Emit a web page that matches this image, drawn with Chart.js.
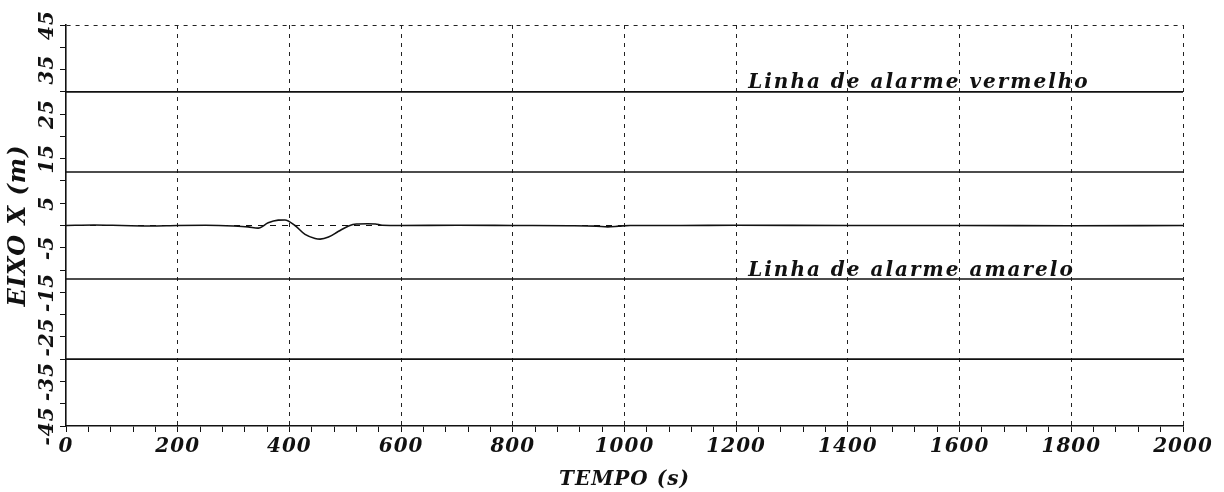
<!DOCTYPE html>
<html>
<head>
<meta charset="utf-8">
<script src="https://cdn.jsdelivr.net/npm/chart.js@4.4.1/dist/chart.umd.min.js"></script>
<style>
  html, body { margin: 0; padding: 0; background: #fff; }
  #wrap { width: 1224px; height: 492px; position: relative; }
</style>
</head>
<body>
<div id="wrap"><canvas id="c"></canvas></div>
<script>
// ---- data ----
const tempo = [0, 50, 100, 150, 200, 250, 300, 326, 344, 362, 380, 392, 410, 428, 446, 455, 470, 488, 506, 520, 540, 554, 566, 600, 700, 800, 900, 950, 970, 990, 1010, 1100, 1200, 1400, 1600, 1800, 2000];
const eixoX = [0, 0.1, 0, -0.1, 0, 0.05, -0.1, -0.3, -0.6, 0.6, 1.2, 1.25, 0.0, -2.0, -2.9, -3.05, -2.6, -1.3, -0.1, 0.35, 0.4, 0.35, 0.05, 0, 0.05, 0, -0.05, -0.15, -0.3, -0.15, 0, 0, 0.05, 0, 0, -0.05, 0];
const alarmeVermelho = [30, -30];
const alarmeAmarelo = [12, -12];
const xRange = [0, 2000];
const xTickLabels = [0, 200, 400, 600, 800, 1000, 1200, 1400, 1600, 1800, 2000];
const yTickLabels = [-45, -35, -25, -15, -5, 5, 15, 25, 35, 45];
const textoVermelho = 'Linha de alarme vermelho';
const textoAmarelo = 'Linha de alarme amarelo';
const annotX = 1200;

const FONT = '"DejaVu Serif", serif';
const INK = '#111';

function hline(v, dash) {
  return {
    data: xRange.map(x => ({x: x, y: v})),
    borderColor: INK, borderWidth: dash ? 1 : 1.6, borderDash: dash || [],
    pointRadius: 0, fill: false, tension: 0
  };
}

const datasets = [
  hline(0, [6, 6]),
  ...alarmeVermelho.map(v => hline(v)),
  ...alarmeAmarelo.map(v => hline(v)),
  {
    data: tempo.map((t, i) => ({x: t, y: eixoX[i]})),
    borderColor: INK, borderWidth: 1.6, pointRadius: 0, fill: false,
    cubicInterpolationMode: 'monotone'
  }
];

const spacingPlugin = {
  id: 'spacing',
  beforeLayout(chart) { chart.ctx.letterSpacing = '1px'; },
  beforeDraw(chart) { chart.ctx.letterSpacing = '1px'; }
};

const annotPlugin = {
  id: 'annot',
  afterDatasetsDraw(chart) {
    const {ctx, scales: {x, y}} = chart;
    ctx.save();
    ctx.letterSpacing = '2px';
    ctx.font = 'italic bold 20px ' + FONT;
    ctx.fillStyle = INK;
    ctx.textAlign = 'left';
    ctx.textBaseline = 'alphabetic';
    ctx.fillText(textoVermelho, x.getPixelForValue(annotX) + 12, y.getPixelForValue(alarmeVermelho[0]) - 4);
    ctx.fillText(textoAmarelo, x.getPixelForValue(annotX) + 12, y.getPixelForValue(alarmeAmarelo[1]) - 3);
    ctx.restore();
  }
};

new Chart(document.getElementById('c'), {
  type: 'line',
  data: { datasets },
  plugins: [spacingPlugin, annotPlugin],
  options: {
    responsive: true, maintainAspectRatio: false, animation: false,
    layout: { padding: { left: 0, right: 41, top: 25, bottom: 0 } },
    plugins: { legend: { display: false }, tooltip: { enabled: false } },
    scales: {
      x: {
        type: 'linear', min: xRange[0], max: xRange[1],
        afterFit(s) { s.height = 66; },
        ticks: {
          stepSize: 40, maxTicksLimit: 100, autoSkip: false,
          minRotation: 0, maxRotation: 0, padding: 3,
          color: INK, font: { family: FONT, size: 20, style: 'italic', weight: 'bold' },
          callback: v => xTickLabels.includes(v) ? String(v) : ''
        },
        grid: {
          color: c => (c.tick && c.tick.value !== 0 && xTickLabels.includes(c.tick.value)) ? '#222' : 'rgba(0,0,0,0)',
          tickColor: INK, tickLength: 6, lineWidth: 1
        },
        border: { display: true, color: INK, width: 1.6, dash: [4, 5] },
        title: {
          display: true, text: 'TEMPO (s)', color: INK,
          font: { family: FONT, size: 20, style: 'italic', weight: 'bold' },
          padding: { top: 0, bottom: 0 }
        }
      },
      y: {
        type: 'linear', min: -45, max: 45,
        afterFit(s) { s.width = 66; },
        ticks: {
          stepSize: 5, autoSkip: false, minRotation: 90, maxRotation: 90,
          crossAlign: 'center', padding: -7,
          color: INK, font: { family: FONT, size: 20, style: 'italic', weight: 'bold' },
          callback: v => yTickLabels.includes(v) ? String(v) : ''
        },
        grid: {
          color: c => (c.tick && c.tick.value === 45) ? '#222' : 'rgba(0,0,0,0)',
          tickColor: INK, tickLength: 6, lineWidth: 1
        },
        border: { display: true, color: INK, width: 1.6, dash: [4, 5] },
        title: {
          display: true, text: 'EIXO X (m)', color: INK,
          font: { family: FONT, size: 24, style: 'italic', weight: 'bold' },
          padding: { top: 4, bottom: 0 }
        }
      }
    }
  }
});
</script>
</body>
</html>
